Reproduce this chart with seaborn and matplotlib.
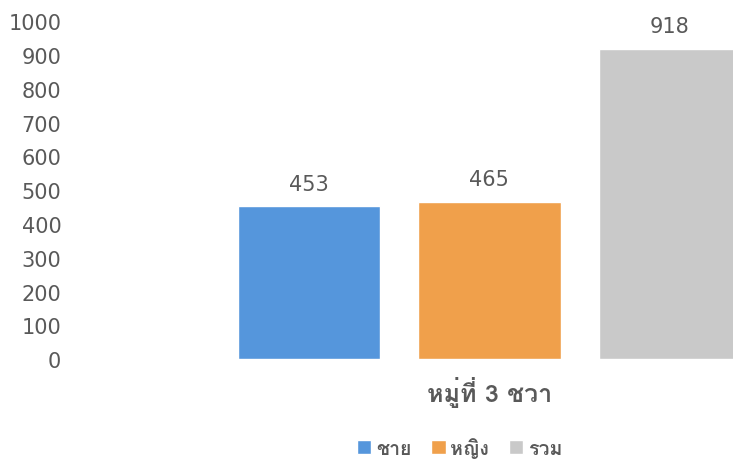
import numpy as np
import pandas as pd
import matplotlib
matplotlib.use("Agg")
import matplotlib.pyplot as plt
import seaborn as sns
from matplotlib import font_manager
from matplotlib.ft2font import FT2Font

# data
village = ["หมู่ที่ 3 ชวา"]
series = ["ชาย", "หญิง", "รวม"]
counts = [453, 465, 918]
colors = ["#5596dc", "#f0a04b", "#c9c9c9"]
yticks = [0, 100, 200, 300, 400, 500, 600, 700, 800, 900, 1000]

df = pd.DataFrame({"village": village * len(series), "series": series, "count": counts})

# find an installed family that has Thai glyphs
thai_family = None
for f in font_manager.fontManager.ttflist:
    try:
        if ord("ห") in FT2Font(f.fname).get_charmap():
            thai_family = f.name
            break
    except Exception:
        pass

sns.set_theme(style="white")
fams = ["DejaVu Sans"] + ([thai_family] if thai_family else [])
thai_fams = ([thai_family] if thai_family else []) + ["DejaVu Sans"]
plt.rcParams["font.family"] = fams

text_col = "#595959"

fig = plt.figure(figsize=(7.33, 4.6), dpi=100)
ax = fig.add_axes([0.095, 0.217, 0.905, 0.735])

sns.barplot(data=df, x="village", y="count", hue="series", palette=colors,
            gap=0.21, width=0.8, ax=ax, saturation=1)

for c in ax.containers:
    ax.bar_label(c, fmt="%d", padding=9, fontsize=15, color=text_col, clip_on=False)

ax.set_ylim(0, 1000)
ax.set_xlim(-0.62, 0.36)
ax.set_yticks(yticks)
ax.tick_params(axis="y", labelsize=15, colors=text_col, length=0, pad=6)
ax.tick_params(axis="x", colors=text_col, length=0, pad=12)
for t in ax.get_xticklabels():
    t.set_fontfamily(thai_fams)
    t.set_fontsize(18)
    t.set_fontweight("bold")
ax.set_xlabel("")
ax.set_ylabel("")
sns.despine(ax=ax, left=True, bottom=True, right=True, top=True)

ax.legend(loc="center", bbox_to_anchor=(0.588, -0.26), ncol=3, frameon=False,
          prop={"family": thai_fams, "size": 14, "weight": "bold"},
          handlelength=0.75, handleheight=0.75, handletextpad=0.25,
          columnspacing=1.0, labelcolor=text_col)

fig.savefig("out.png", dpi=100)
